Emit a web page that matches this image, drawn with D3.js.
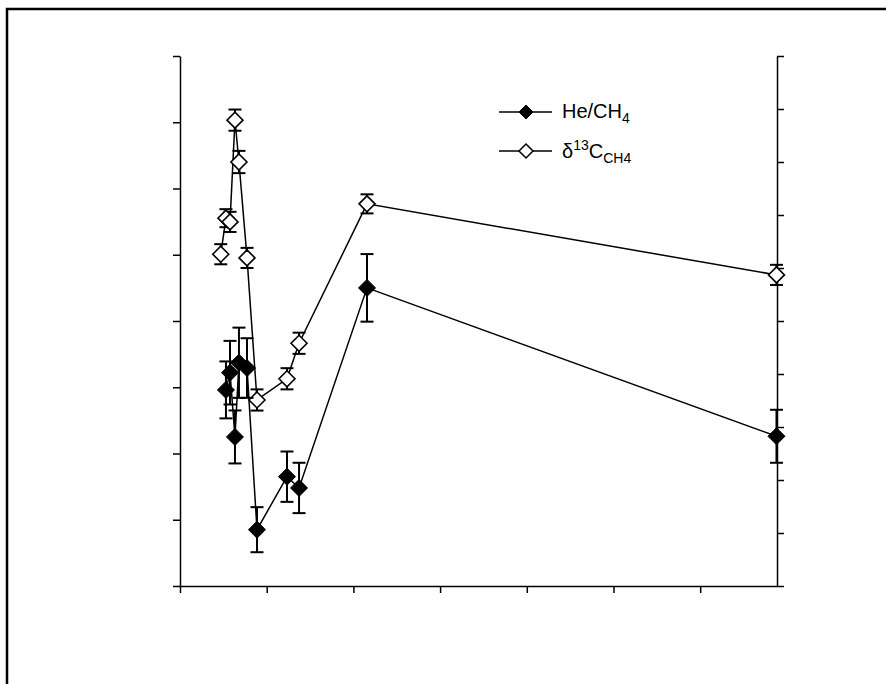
<!DOCTYPE html>
<html>
<head>
<meta charset="utf-8">
<script src="https://cdn.jsdelivr.net/npm/d3@7"></script>
<style>
  body { margin: 0; background: #fff; }
  svg { display: block; font-family: "Liberation Sans", Arial, sans-serif; }
</style>
</head>
<body>
<div id="chart"></div>
<script>
// sample positions along x (no labels in the original)
const sampleX = [0.47, 0.53, 0.577, 0.634, 0.68, 0.773, 0.888, 1.234, 1.373, 2.157, 6.88];

// He/CH4 (left axis), first sample has no value
const heCh4    = [null, 2.96, 3.22, 2.25, 3.37, 3.29, 0.85, 1.65, 1.48, 4.5, 2.26];
const heCh4Err = [null, 0.43, 0.48, 0.40, 0.53, 0.45, 0.34, 0.38, 0.38, 0.51, 0.40];

// d13C of CH4 (right axis)
const d13C    = [6.26, 6.94, 6.87, 8.79, 8.0, 6.19, 3.51, 3.91, 4.58, 7.21, 5.87];
const d13CErr = [0.19, 0.17, 0.19, 0.20, 0.21, 0.19, 0.20, 0.20, 0.20, 0.18, 0.19];

const xTicks = [0, 1, 2, 3, 4, 5, 6];
const leftTicks = [0, 1, 2, 3, 4, 5, 6, 7, 8];
const rightTicks = [0, 1, 2, 3, 4, 5, 6, 7, 8, 9, 10];

const width = 886, height = 684;
const margin = { top: 56, right: 109, bottom: 98, left: 180 };
const innerW = width - margin.left - margin.right;
const innerH = height - margin.top - margin.bottom;

const svg = d3.select("#chart")
  .append("svg")
  .attr("width", width)
  .attr("height", height);

// outer frame (only top and left edges show in the picture)
svg.append("rect")
  .attr("x", 7).attr("y", 9)
  .attr("width", 900).attr("height", 700)
  .attr("fill", "none")
  .attr("stroke", "#000")
  .attr("stroke-width", 2.5);

const g = svg.append("g")
  .attr("transform", `translate(${margin.left},${margin.top})`);

const x = d3.scaleLinear().domain([0, 6.886]).range([0, innerW]);
const yL = d3.scaleLinear().domain([0, 8]).range([innerH, 0]);
const yR = d3.scaleLinear().domain([0, 10]).range([innerH, 0]);

function styleAxis(sel) {
  sel.selectAll("path, line").attr("stroke", "#000").attr("stroke-width", 1.5);
  sel.selectAll("text").remove();
}

g.append("g")
  .attr("transform", `translate(0,${innerH})`)
  .call(d3.axisBottom(x).tickValues(xTicks).tickSize(7).tickSizeOuter(0).tickFormat(""))
  .call(styleAxis);

g.append("g")
  .call(d3.axisLeft(yL).tickValues(leftTicks).tickSize(7).tickSizeOuter(0).tickFormat(""))
  .call(styleAxis);

g.append("g")
  .attr("transform", `translate(${innerW},0)`)
  .call(d3.axisRight(yR).tickValues(rightTicks).tickSize(7).tickSizeOuter(0).tickFormat(""))
  .call(styleAxis);

const diamond = (r) => `M0,${-r}L${r},0L0,${r}L${-r},0Z`;

function drawSeries(values, errs, y, filled) {
  const pts = sampleX.map((v, i) => ({ x: v, y: values[i], e: errs[i] }))
    .filter((d) => d.y != null);

  const line = d3.line().x((d) => x(d.x)).y((d) => y(d.y));
  g.append("path")
    .datum(pts)
    .attr("d", line)
    .attr("fill", "none")
    .attr("stroke", "#000")
    .attr("stroke-width", 1.5);

  // error bars
  const eb = g.append("g").attr("stroke", "#000").attr("stroke-width", 2);
  pts.forEach((d) => {
    const cx = x(d.x);
    eb.append("line")
      .attr("x1", cx).attr("x2", cx)
      .attr("y1", y(d.y - d.e)).attr("y2", y(d.y + d.e));
    [d.y - d.e, d.y + d.e].forEach((v) => {
      eb.append("line")
        .attr("x1", cx - 6.5).attr("x2", cx + 6.5)
        .attr("y1", y(v)).attr("y2", y(v));
    });
  });

  g.append("g")
    .selectAll("path")
    .data(pts)
    .join("path")
    .attr("transform", (d) => `translate(${x(d.x)},${y(d.y)})`)
    .attr("d", filled ? diamond(8.5) : diamond(8))
    .attr("fill", filled ? "#000" : "#fff")
    .attr("stroke", "#000")
    .attr("stroke-width", filled ? 1 : 1.6);
}

drawSeries(d13C, d13CErr, yR, false);
drawSeries(heCh4, heCh4Err, yL, true);

// legend
const leg = svg.append("g");
[
  { y: 112, filled: true },
  { y: 151, filled: false }
].forEach((d) => {
  leg.append("line")
    .attr("x1", 499).attr("x2", 552)
    .attr("y1", d.y).attr("y2", d.y)
    .attr("stroke", "#000").attr("stroke-width", 1.5);
  leg.append("path")
    .attr("transform", `translate(526,${d.y})`)
    .attr("d", diamond(7))
    .attr("fill", d.filled ? "#000" : "#fff")
    .attr("stroke", "#000")
    .attr("stroke-width", d.filled ? 1 : 1.5);
});

const t1 = leg.append("text")
  .attr("x", 562).attr("y", 118)
  .style("font-size", "20px");
t1.append("tspan").text("He/CH");
t1.append("tspan").attr("dy", 5).style("font-size", "14px").text("4");

const t2 = leg.append("text")
  .attr("x", 562).attr("y", 158)
  .style("font-size", "20px");
t2.append("tspan").text("δ");
t2.append("tspan").attr("dy", -8).style("font-size", "14px").text("13");
t2.append("tspan").attr("dy", 8).text("C");
t2.append("tspan").attr("dy", 5).style("font-size", "14px").text("CH4");
</script>
</body>
</html>
